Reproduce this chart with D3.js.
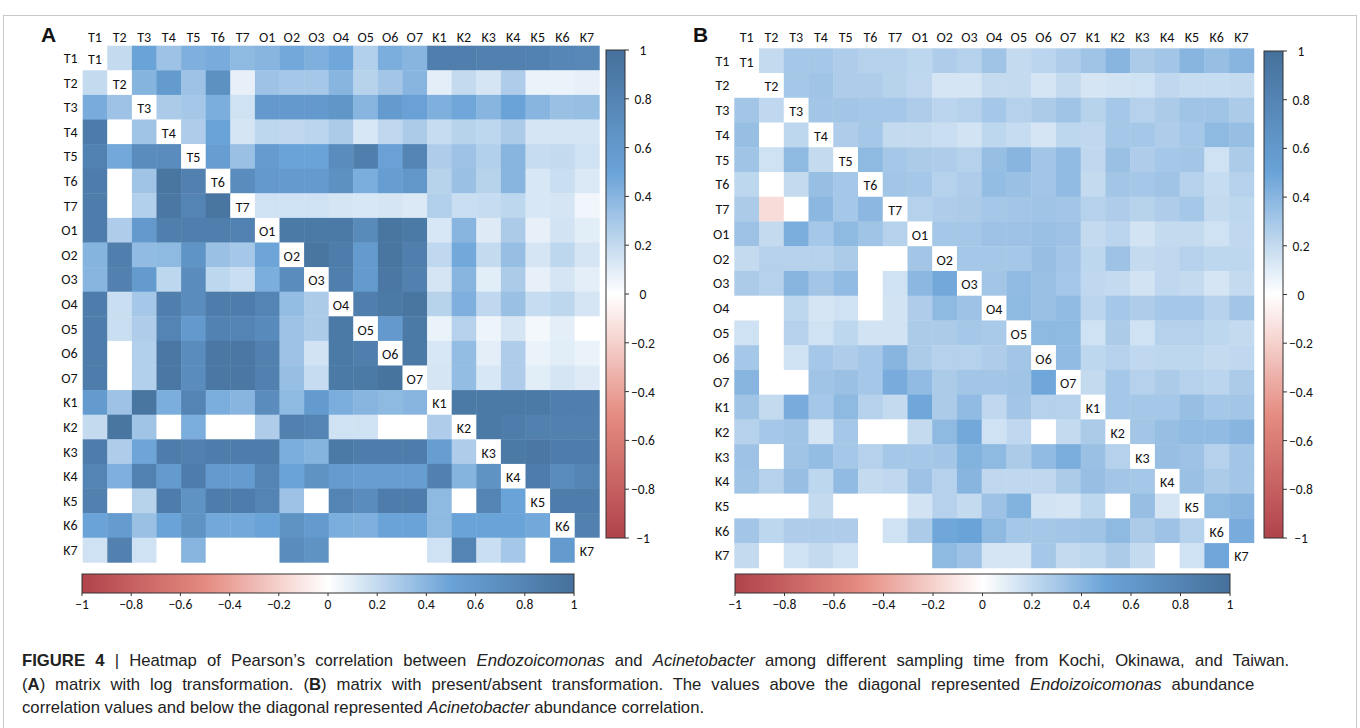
<!DOCTYPE html>
<html>
<head>
<meta charset="utf-8">
<script src="https://cdn.jsdelivr.net/npm/d3@7"></script>
<style>
  body { margin: 0; background: #fff; }
  svg text { font-family: Carlito, "Open Sans", "Noto Sans", sans-serif; fill: #111; }
</style>
</head>
<body>
<svg id="chart" width="1360" height="728"></svg>
<script>
// sample names (rows and columns are the same)
var labels = ["T1","T2","T3","T4","T5","T6","T7","O1","O2","O3","O4","O5","O6","O7","K1","K2","K3","K4","K5","K6","K7"];

// (A) log transformation, null = diagonal
var matA = [
  [null,0.2,0.5,0.33,0.43,0.45,0.38,0.4,0.47,0.43,0.48,0.26,0.44,0.4,0.85,0.85,0.83,0.83,0.82,0.78,0.76],
  [0.2,null,0.41,0.58,0.33,0.68,0.08,0.33,0.3,0.3,0.4,0.24,0.31,0.4,0.09,0.2,0.14,0.27,0.07,0.07,0.08],
  [0.45,0.33,null,0.28,0.3,0.44,0.16,0.6,0.6,0.6,0.63,0.4,0.58,0.52,0.43,0.48,0.4,0.5,0.4,0.34,0.35],
  [0.88,0,0.32,null,0.27,0.5,0.14,0.22,0.21,0.23,0.28,0.13,0.21,0.28,0.19,0.24,0.22,0.28,0.14,0.14,0.14],
  [0.82,0.47,0.72,0.72,null,0.55,0.34,0.57,0.5,0.5,0.72,0.85,0.52,0.8,0.27,0.33,0.26,0.4,0.19,0.2,0.16],
  [0.87,0,0.32,0.95,0.83,null,0.72,0.6,0.58,0.58,0.68,0.44,0.55,0.62,0.24,0.34,0.24,0.4,0.13,0.18,0.12],
  [0.87,0,0.26,0.93,0.8,0.95,null,0.16,0.16,0.16,0.14,0.13,0.14,0.12,0.26,0.18,0.19,0.22,0.13,0.14,0.05],
  [0.87,0.27,0.6,0.85,0.85,0.85,0.82,null,0.9,0.9,0.9,0.75,0.95,0.9,0.13,0.4,0.11,0.28,0.08,0.15,0.1],
  [0.41,0.85,0.37,0.38,0.65,0.34,0.3,0.49,null,0.95,0.87,0.58,0.95,0.85,0.21,0.47,0.2,0.35,0.14,0.22,0.14],
  [0.4,0.83,0.58,0.22,0.72,0.22,0.18,0.44,0.72,null,0.85,0.58,0.93,0.83,0.14,0.4,0.1,0.28,0.08,0.14,0.09],
  [0.87,0.18,0.3,0.85,0.72,0.87,0.87,0.8,0.36,0.28,null,0.85,0.9,0.95,0.24,0.43,0.21,0.34,0.19,0.22,0.14],
  [0.87,0.18,0.27,0.8,0.6,0.82,0.8,0.74,0.33,0.28,0.9,null,0.6,0.9,0.07,0.25,0.06,0.14,0.04,0.09,0],
  [0.87,0,0.26,0.93,0.72,0.93,0.93,0.83,0.33,0.15,0.9,0.85,null,0.9,0.13,0.36,0.09,0.27,0.07,0.1,0.07],
  [0.87,0,0.26,0.93,0.72,0.93,0.93,0.83,0.35,0.19,0.9,0.9,0.97,null,0.14,0.36,0.13,0.27,0.1,0.14,0.11],
  [0.58,0.33,0.95,0.44,0.8,0.44,0.4,0.72,0.38,0.58,0.44,0.4,0.38,0.4,null,0.9,0.9,0.9,0.9,0.85,0.85],
  [0.2,0.95,0.32,0,0.44,0,0,0.27,0.83,0.8,0.16,0.16,0,0,0.27,null,0.9,0.87,0.83,0.83,0.83],
  [0.87,0.27,0.49,0.87,0.83,0.87,0.87,0.87,0.44,0.41,0.9,0.87,0.87,0.87,0.55,0.27,null,0.9,0.93,0.87,0.87],
  [0.8,0.43,0.82,0.58,0.87,0.58,0.57,0.8,0.5,0.66,0.57,0.55,0.55,0.55,0.83,0.41,0.66,null,0.87,0.72,0.8],
  [0.83,0,0.24,0.87,0.66,0.87,0.87,0.8,0.33,0,0.8,0.72,0.87,0.87,0.38,0,0.8,0.5,null,0.87,0.87],
  [0.5,0.57,0.34,0.5,0.66,0.47,0.47,0.5,0.66,0.58,0.44,0.43,0.5,0.5,0.38,0.5,0.5,0.5,0.47,null,0.83],
  [0.16,0.83,0.16,0,0.4,0,0,0,0.72,0.66,0,0,0,0,0.16,0.8,0.18,0.3,0,0.58,null]
];

// (B) present/absent transformation
var matB = [
  [null,0.2,0.3,0.3,0.27,0.25,0.25,0.22,0.27,0.25,0.32,0.2,0.23,0.27,0.32,0.4,0.28,0.31,0.4,0.35,0.4],
  [0,null,0.3,0.32,0.27,0.27,0.24,0.21,0.14,0.14,0.2,0.2,0.14,0.2,0.14,0.15,0.16,0.21,0.19,0.19,0.2],
  [0.31,0.21,null,0.31,0.31,0.3,0.3,0.27,0.23,0.25,0.3,0.25,0.28,0.32,0.24,0.3,0.25,0.28,0.32,0.32,0.28],
  [0.35,0,0.22,null,0.27,0.3,0.2,0.2,0.18,0.15,0.22,0.19,0.14,0.22,0.21,0.3,0.3,0.27,0.3,0.38,0.35],
  [0.32,0.16,0.38,0.2,null,0.38,0.3,0.28,0.27,0.25,0.35,0.4,0.31,0.37,0.21,0.34,0.27,0.3,0.31,0.16,0.28],
  [0.22,0,0.2,0.35,0.3,null,0.31,0.3,0.25,0.27,0.36,0.34,0.31,0.37,0.2,0.31,0.3,0.32,0.25,0.19,0.25],
  [0.28,-0.15,0,0.39,0.3,0.39,null,0.25,0.27,0.28,0.3,0.31,0.32,0.31,0.25,0.27,0.24,0.27,0.3,0.2,0.22],
  [0.33,0.2,0.44,0.3,0.38,0.32,0.25,null,0.3,0.3,0.33,0.33,0.34,0.33,0.2,0.23,0.15,0.2,0.2,0.16,0.21],
  [0.2,0.25,0.25,0.25,0.28,0,0,0.31,null,0.3,0.3,0.3,0.35,0.31,0.22,0.33,0.2,0.21,0.25,0.22,0.22],
  [0.28,0.25,0.4,0.31,0.37,0,0.16,0.39,0.47,null,0.31,0.37,0.34,0.3,0.21,0.2,0.15,0.21,0.2,0.14,0.2],
  [0,0,0.22,0.14,0.16,0,0.15,0.27,0.38,0.33,null,0.38,0.34,0.37,0.23,0.3,0.27,0.3,0.3,0.25,0.31],
  [0.16,0,0.25,0.16,0.22,0.15,0.15,0.28,0.28,0.3,0.29,null,0.38,0.38,0.16,0.28,0.16,0.25,0.25,0.22,0.2],
  [0.3,0,0.16,0.3,0.27,0.3,0.4,0.28,0.25,0.25,0.27,0.31,null,0.37,0.22,0.25,0.21,0.22,0.22,0.2,0.21],
  [0.4,0,0,0.32,0.34,0.3,0.45,0.37,0.28,0.31,0.31,0.32,0.48,null,0.2,0.3,0.25,0.28,0.25,0.23,0.28],
  [0.32,0.2,0.45,0.3,0.38,0.25,0.2,0.48,0.28,0.37,0.21,0.31,0.25,0.25,null,0.3,0.3,0.3,0.35,0.3,0.31],
  [0.25,0.3,0.32,0.14,0.3,0,0,0.2,0.38,0.47,0.16,0.21,0,0.2,0.28,null,0.31,0.35,0.37,0.37,0.4],
  [0.33,0,0.32,0.36,0.3,0.25,0.3,0.3,0.31,0.42,0.38,0.28,0.37,0.44,0.34,0.25,null,0.35,0.33,0.25,0.31],
  [0.32,0.25,0.35,0.22,0.37,0.2,0.21,0.33,0.25,0.4,0.21,0.21,0.21,0.28,0.35,0.31,0.3,null,0.34,0.28,0.31],
  [0,0,0,0.2,0,0,0,0.15,0.25,0.2,0.33,0.42,0.15,0.14,0.22,0,0.35,0.14,null,0.38,0.4],
  [0.31,0.22,0.27,0.27,0.27,0,0.16,0.28,0.48,0.5,0.38,0.3,0.3,0.31,0.32,0.38,0.28,0.33,0.25,null,0.45],
  [0.2,0,0.16,0.2,0.16,0,0,0,0.38,0.33,0.14,0.14,0.3,0.2,0.22,0.28,0.2,0,0.16,0.48,null]
];

var barTicks = [-1,-0.8,-0.6,-0.4,-0.2,0,0.2,0.4,0.6,0.8,1];
var colorDomain = [-1,-0.5,0,0.5,1];
var colorRange = ["#b0434b","#e58b80","#ffffff","#6aa3d8","#45709b"];

var color = d3.scaleLinear().domain(colorDomain).range(colorRange).interpolate(d3.interpolateRgb);

var svg = d3.select("#chart");

// outer frame
svg.append("rect").attr("x",3.5).attr("y",15.5).attr("width",1353).attr("height",720)
   .attr("fill","none").attr("stroke","#c8c8c8");

// gradients for the colour bars
var defs = svg.append("defs");
function gradient(id, vertical){
  var g = defs.append("linearGradient").attr("id",id)
     .attr("x1","0").attr("y1", vertical ? "1" : "0")
     .attr("x2", vertical ? "0" : "1").attr("y2","0");
  d3.range(0,1.0001,0.05).forEach(function(t){
    g.append("stop").attr("offset",t).attr("stop-color",color(-1+2*t));
  });
}
gradient("gradV", true);
gradient("gradH", false);

function drawPanel(p){
  var n = labels.length;
  var x = d3.scaleBand().domain(labels).range([p.x0, p.x0 + n*p.cell]);
  var y = d3.scaleBand().domain(labels).range([p.y0, p.y0 + n*p.cell]);
  var g = svg.append("g");

  var cells = [];
  p.mat.forEach(function(row,i){
    row.forEach(function(v,j){ cells.push({r:labels[i], c:labels[j], v:v}); });
  });

  g.selectAll(".cell").data(cells).enter().append("rect")
    .attr("class","cell")
    .attr("x",function(d){return x(d.c);})
    .attr("y",function(d){return y(d.r);})
    .attr("width",x.bandwidth()+0.4)
    .attr("height",y.bandwidth()+0.4)
    .attr("fill",function(d){return d.v===null ? "#fff" : color(d.v);});

  // diagonal names
  g.selectAll(".diag").data(labels).enter().append("text")
    .attr("x",function(d){return x(d)+x.bandwidth()/2;})
    .attr("y",function(d){return y(d)+y.bandwidth()/2+6;})
    .attr("text-anchor","middle").attr("font-size",14)
    .text(function(d){return d;});

  // column labels
  g.selectAll(".colLab").data(labels).enter().append("text")
    .attr("x",function(d){return x(d)+x.bandwidth()/2;})
    .attr("y",42)
    .attr("text-anchor","middle").attr("font-size",14)
    .text(function(d){return d;});

  // row labels
  g.selectAll(".rowLab").data(labels).enter().append("text")
    .attr("x",p.x0-5)
    .attr("y",function(d){return y(d)+y.bandwidth()/2+5;})
    .attr("text-anchor","end").attr("font-size",14)
    .text(function(d){return d;});

  // panel letter
  svg.append("text").attr("x",p.letterX).attr("y",42)
    .style("font-family","'Liberation Sans', Arial, sans-serif")
    .attr("font-weight","bold").attr("font-size",21).text(p.letter);

  // vertical colour bar
  var vb = p.vbar;
  var vs = d3.scaleLinear().domain([1,-1]).range([vb.y0, vb.y1]);
  svg.append("rect").attr("x",vb.x).attr("y",vb.y0).attr("width",vb.w).attr("height",vb.y1-vb.y0)
    .attr("fill","url(#gradV)").attr("stroke","#333").attr("stroke-width",1);
  var vt = svg.append("g");
  vt.selectAll("line").data(barTicks).enter().append("line")
    .attr("x1",vb.x+vb.w).attr("x2",vb.x+vb.w+4)
    .attr("y1",function(d){return vs(d);}).attr("y2",function(d){return vs(d);})
    .attr("stroke","#333");
  vt.selectAll("text").data(barTicks).enter().append("text")
    .attr("x",vb.x+vb.w+18).attr("y",function(d){return vs(d)+5;})
    .attr("text-anchor","middle").attr("font-size",13.5)
    .text(function(d){return d3.format("")(d);});

  // horizontal colour bar
  var hb = p.hbar;
  var hs = d3.scaleLinear().domain([-1,1]).range([hb.x0, hb.x1]);
  svg.append("rect").attr("x",hb.x0).attr("y",hb.y).attr("width",hb.x1-hb.x0).attr("height",hb.h)
    .attr("fill","url(#gradH)").attr("stroke","#333").attr("stroke-width",1);
  var ht = svg.append("g");
  ht.selectAll("line").data(barTicks).enter().append("line")
    .attr("x1",function(d){return hs(d);}).attr("x2",function(d){return hs(d);})
    .attr("y1",hb.y+hb.h).attr("y2",hb.y+hb.h+3)
    .attr("stroke","#333");
  ht.selectAll("text").data(barTicks).enter().append("text")
    .attr("x",function(d){return hs(d);}).attr("y",hb.y+hb.h+16)
    .attr("text-anchor","middle").attr("font-size",13.5)
    .text(function(d){return d3.format("")(d);});
}

drawPanel({mat:matA, x0:82.7, y0:45.7, cell:24.6, letter:"A", letterX:41,
  vbar:{x:606, w:19, y0:50, y1:538},
  hbar:{x0:82, x1:574, y:574, h:19}});
drawPanel({mat:matB, x0:734.3, y0:48.3, cell:24.74, letter:"B", letterX:693,
  vbar:{x:1264, w:19, y0:51, y1:538},
  hbar:{x0:735, x1:1230, y:574, h:19}});

// caption: narrow type, first two lines justified, last line natural width
var capFont = "'Liberation Sans Narrow', 'Liberation Sans', Arial, sans-serif";
var capLines = [
  {y:666, w:1268, parts:[["FIGURE 4","b"],[" | ",""],["Heatmap of Pearson\u2019s correlation between ",""],["Endozoicomonas","i"],[" and ",""],["Acinetobacter","i"],[" among different sampling time from Kochi, Okinawa, and Taiwan.",""]]},
  {y:690, w:1233, parts:[["(",""],["A","b"],[") matrix with log transformation. (",""],["B","b"],[") matrix with present/absent transformation. The values above the diagonal represented ",""],["Endoizoicomonas","i"],[" abundance",""]]},
  {y:713, w:621, parts:[["correlation values and below the diagonal represented ",""],["Acinetobacter","i"],[" abundance correlation.",""]]}
];
var capNodes = capLines.map(function(l){
  var t = svg.append("text").attr("x",0).attr("y",0)
    .style("font-family",capFont).attr("font-size",16);
  l.parts.forEach(function(pt){
    var s = t.append("tspan").text(pt[0]).style("font-family",capFont).style("fill","#222");
    if(pt[1]=="b") s.attr("font-weight","bold");
    if(pt[1]=="i") s.attr("font-style","italic");
  });
  return t;
});
// one horizontal squeeze for all lines, halfway between fitting line 1 and line 3
var sx1 = capLines[0].w / capNodes[0].node().getComputedTextLength();
var sx3 = capLines[2].w / capNodes[2].node().getComputedTextLength();
var sx = (sx1 + sx3) / 2;
capNodes.forEach(function(t,i){
  if(i<2){
    var len = t.node().getComputedTextLength();
    var spaces = capLines[i].parts.map(function(p){return p[0];}).join("").split(" ").length-1;
    var ws = Math.max(0,(capLines[i].w/sx - len)/spaces);
    t.selectAll("tspan").style("word-spacing",ws+"px");
  }
  t.attr("transform","translate(22,"+capLines[i].y+") scale("+sx+",1)");
});
</script>
</body>
</html>
